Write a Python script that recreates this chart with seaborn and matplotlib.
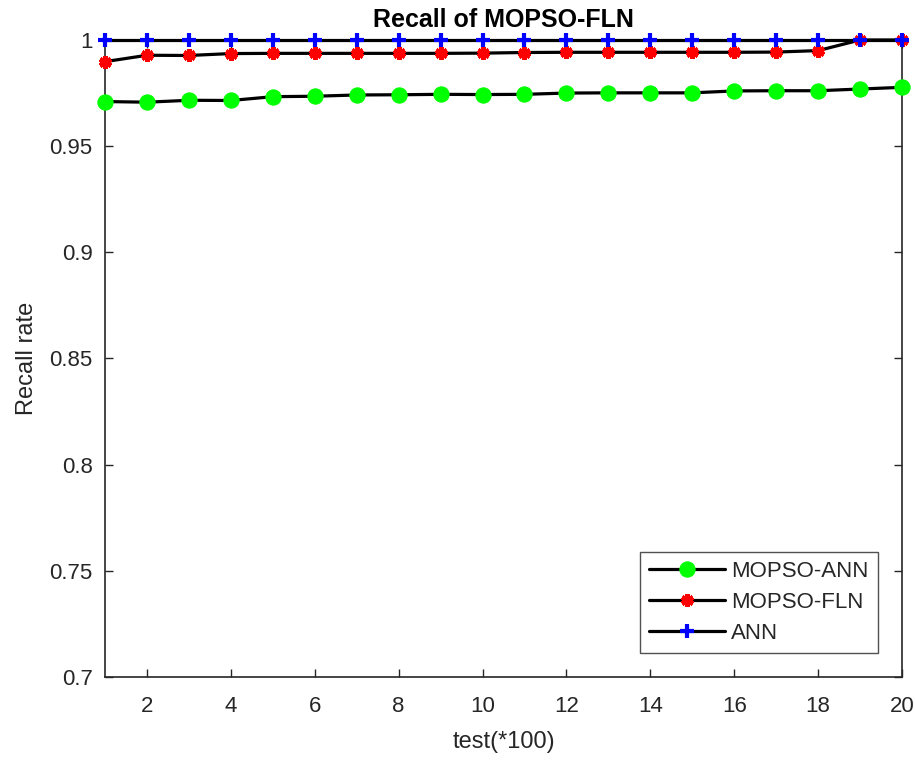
import numpy as np
import pandas as pd
import matplotlib
matplotlib.use("Agg")
import matplotlib.pyplot as plt
import seaborn as sns

# Valeurs
tests = list(range(1, 21))
mopso_ann = [0.9710, 0.9707, 0.9716, 0.9715, 0.9733, 0.9735, 0.9741, 0.9742, 0.9744, 0.9743,
             0.9744, 0.9750, 0.9751, 0.9751, 0.9751, 0.9760, 0.9761, 0.9761, 0.9769, 0.9777]
mopso_fln = [0.9898, 0.9928, 0.9927, 0.9936, 0.9937, 0.9937, 0.9937, 0.9937, 0.9937, 0.9938,
             0.9941, 0.9942, 0.9942, 0.9942, 0.9942, 0.9942, 0.9943, 0.9950, 1.0, 1.0]
ann = [1.0] * 20

x_ticks = list(range(2, 21, 2))
y_ticks = [0.7, 0.75, 0.8, 0.85, 0.9, 0.95, 1.0]
y_labels = ["0.7", "0.75", "0.8", "0.85", "0.9", "0.95", "1"]

df = pd.DataFrame({"test": tests, "MOPSO-ANN": mopso_ann,
                   "MOPSO-FLN": mopso_fln, "ANN": ann})

sns.set_style("white")
plt.rcParams['font.family'] = ['Liberation Sans', 'DejaVu Sans']

fig = plt.figure(figsize=(9.15, 7.6), dpi=100)
ax = fig.add_axes([0.1148, 0.1092, 0.8710, 0.8382])

# Trois courbes : ligne noire, marqueurs colorés
sns.lineplot(data=df, x="test", y="MOPSO-ANN", ax=ax, color="black", linewidth=2.3,
             marker="o", markersize=11, markerfacecolor="#00ff00",
             markeredgecolor="#00ff00", label="MOPSO-ANN", clip_on=False, zorder=3)
sns.lineplot(data=df, x="test", y="MOPSO-FLN", ax=ax, color="black", linewidth=2.3,
             marker=(6, 2, 0), markersize=9, markeredgewidth=3.5,
             markerfacecolor="red", markeredgecolor="red", label="MOPSO-FLN",
             clip_on=False, zorder=4)
sns.lineplot(data=df, x="test", y="ANN", ax=ax, color="black", linewidth=2.3,
             marker="+", markersize=10, markeredgewidth=3,
             markerfacecolor="blue", markeredgecolor="blue", label="ANN",
             clip_on=False, zorder=5)

ax.set_xlim(1, 20)
ax.set_ylim(0.7, 1.0)
ax.set_xticks(x_ticks)
ax.set_yticks(y_ticks)
ax.set_yticklabels(y_labels)
ax.tick_params(direction="in", bottom=True, left=True, top=True, right=True,
               length=6, width=1, labelsize=16, colors="#262626")
ax.tick_params(axis="x", pad=14)
ax.tick_params(axis="y", pad=9)
for s in ax.spines.values():
    s.set_color("#262626")
    s.set_linewidth(1.2)

ax.set_title("Recall of MOPSO-FLN", fontsize=18, fontweight="bold", pad=9, color="black")
ax.set_xlabel("test(*100)", fontsize=17, color="#262626", labelpad=10)
ax.set_ylabel("Recall rate", fontsize=17, color="#262626", labelpad=8)

leg = ax.legend(loc="lower right", fontsize=16, frameon=True, fancybox=False,
                edgecolor="#262626", handlelength=3.4, handletextpad=0.3,
                labelspacing=0.45, borderaxespad=1.1)
leg.get_frame().set_linewidth(1.0)

fig.savefig("out.png", dpi=100)
